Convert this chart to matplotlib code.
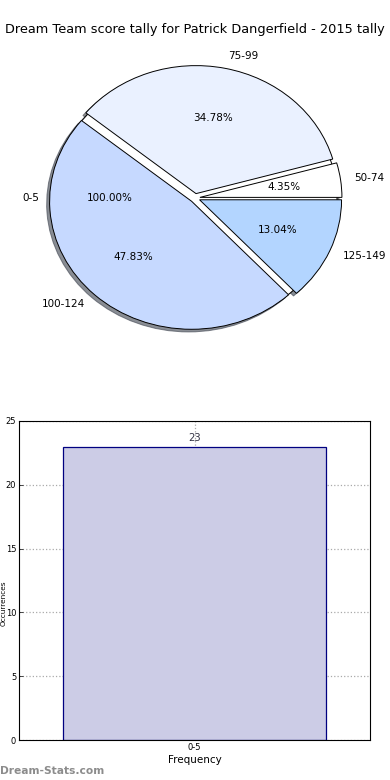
import matplotlib
matplotlib.use("Agg")
import matplotlib.pyplot as plt

TITLE = "Dream Team score tally for Patrick Dangerfield - 2015 tally"

# pie data (games per score band)
pie_labels = ["50-74", "75-99", "100-124", "125-149"]
pie_counts = [1, 8, 11, 3]
pie_colors = ["#ffffff", "#eaf1ff", "#c6d9ff", "#b3d5ff"]
pie_explode = [0.035, 0.035, 0.035, 0.035]

# the lone 0-5 band, drawn as its own full pie underneath
base_labels = ["0-5"]
base_counts = [23]

# bar data
bar_labels = ["0-5"]
bar_counts = [23]

fig = plt.figure(figsize=(3.9, 7.8), dpi=100)
W, H = 390.0, 780.0

fig.text(0.5, 1 - 30 / H, TITLE, ha="center", va="center", fontsize=9.3)

# pie axes: centre (195,198), rx 142, ry 128 px -> limits +-1.25
ax1 = fig.add_axes([17.5 / W, 1 - 358 / H, 355 / W, 320 / H])
shadow = dict(ox=-0.015, oy=-0.015, alpha=0.6)
ax1.pie(base_counts, labels=base_labels, colors=["#ffffff"], autopct="%.2f%%",
        shadow=shadow, startangle=0,
        wedgeprops=dict(edgecolor="black", linewidth=0.7),
        textprops=dict(fontsize=7.5))
ax1.pie(pie_counts, labels=pie_labels, colors=pie_colors, autopct="%.2f%%",
        explode=pie_explode, shadow=shadow, startangle=0,
        wedgeprops=dict(edgecolor="black", linewidth=0.7),
        textprops=dict(fontsize=7.5))
ax1.set_aspect("auto")
ax1.set_xlim(-1.25, 1.25)
ax1.set_ylim(-1.25, 1.25)
ax1.axis("off")

# bar axes
ax2 = fig.add_axes([19 / W, 1 - 740 / H, 351 / W, 319 / H])
xs = list(range(len(bar_labels)))
bars = ax2.bar(xs, bar_counts, width=0.75, color="#ccccE6", edgecolor="#000080",
               linewidth=0.9, zorder=2)
for b, v in zip(bars, bar_counts):
    ax2.text(b.get_x() + b.get_width() / 2, v + 0.25, str(v), ha="center",
             va="bottom", fontsize=7.2, color="#333344", zorder=3)
ax2.set_xlim(-0.5, 0.5)
ax2.set_ylim(0, 25)
ax2.set_yticks([0, 5, 10, 15, 20, 25])
ax2.set_xticks(xs)
ax2.set_xticklabels(bar_labels)
ax2.tick_params(labelsize=6, direction="in", length=3, width=0.5, pad=2)
ax2.grid(True, linestyle=":", color="#aaaaaa", linewidth=0.9, zorder=0)
ax2.set_axisbelow(True)
for s in ax2.spines.values():
    s.set_linewidth(0.8)
ax2.set_xlabel("Frequency", fontsize=7.5, labelpad=2)
ax2.set_ylabel("Occurrences", fontsize=5.3)
ax2.yaxis.set_label_coords(-0.036, 0.43)

fig.text(0.0, 1 - 771 / H, "Dream-Stats.com", ha="left", va="center",
         fontsize=7.7, color="#8c8c8c", fontweight="semibold")

fig.savefig("out.png", dpi=100)
